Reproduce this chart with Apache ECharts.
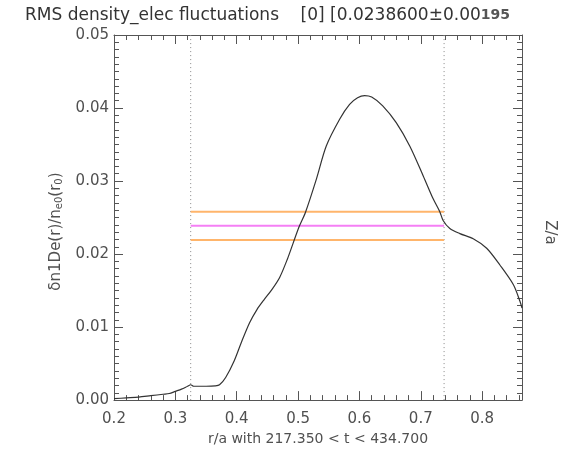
<!DOCTYPE html>
<html><head><meta charset="utf-8">
<script src="https://cdn.jsdelivr.net/npm/echarts@6/dist/echarts.min.js"></script>
<style>html,body{margin:0;padding:0;background:#fff}#c{width:575px;height:451px}</style>
</head><body><div id="c"></div>
<script>
var rValues = [0.2,0.22,0.24,0.26,0.28,0.29,0.30,0.31,0.32,0.325,0.33,0.35,0.365,0.372,0.382,0.396,0.408,0.421,0.433,0.445,0.457,0.47,0.483,0.492,0.502,0.512,0.53,0.546,0.568,0.584,0.597,0.6085,0.62,0.638,0.66,0.682,0.704,0.72,0.731,0.7364,0.7474,0.7637,0.7855,0.8074,0.829,0.851,0.8618,0.865];
var densValues = [0.0002,0.0003,0.0004,0.0006,0.0008,0.0009,0.0012,0.0015,0.0019,0.0021,0.0019,0.0019,0.00195,0.0021,0.0031,0.0054,0.008,0.0106,0.0124,0.0138,0.0151,0.0168,0.0194,0.0215,0.0238,0.0257,0.0303,0.0348,0.0385,0.0405,0.0414,0.0417,0.0415,0.0403,0.038,0.0348,0.0307,0.0276,0.0258,0.0246,0.0235,0.0228,0.0221,0.0208,0.0185,0.0158,0.0135,0.0126];
var rangeBounds = [0.325, 0.738];
var meanValue = 0.02386;
var errValue = 0.00195;
var xTickLabels = ['0.2','0.3','0.4','0.5','0.6','0.7','0.8'];
var yTickLabels = ['0.00','0.01','0.02','0.03','0.04','0.05'];

var curve = rValues.map(function(r,i){return [r, densValues[i]];});
var font = 'DejaVu Sans';
var txt = '#505050';
var tickCol = '#555';
function ax(o, minorSplit){
  return Object.assign({
    axisLine:{show:true, onZero:false, lineStyle:{color:tickCol, width:1}},
    axisTick:{show:true, inside:true, length:9, lineStyle:{color:tickCol}},
    minorTick:{show:true, splitNumber:minorSplit, length:5, lineStyle:{color:tickCol}},
    splitLine:{show:false}
  }, o);
}

var chart = echarts.init(document.getElementById('c'));
chart.setOption({
  animation:false,
  backgroundColor:'#fff',
  title:{
    text:'RMS density_elec fluctuations    [0] [0.0238600±0.00{b|195}',
    left:20, top:2,
    textStyle:{fontFamily:font, fontSize:17, fontWeight:'normal', color:'#333',
      rich:{b:{fontFamily:font, fontSize:14, fontWeight:'bold', color:'#555'}}}
  },
  grid:{left:114, right:53, top:35, bottom:48},
  xAxis:[
    ax({type:'value', min:0.2, max:0.865, interval:0.1, position:'bottom',
      axisLabel:{showMaxLabel:false, color:txt, fontFamily:font, fontSize:15, margin:12,
        formatter:function(v){var s=v.toFixed(1); return xTickLabels.indexOf(s)>=0?s:'';}},
      name:'r/a with 217.350 < t < 434.700', nameLocation:'middle', nameGap:30,
      nameTextStyle:{color:txt, fontFamily:font, fontSize:14}}, 5),
    ax({type:'value', min:0.2, max:0.865, interval:0.1, position:'top',
      axisLabel:{show:false}}, 5)
  ],
  yAxis:[
    ax({type:'value', min:0, max:0.05, interval:0.01, position:'left',
      axisLabel:{color:txt, fontFamily:font, fontSize:15, margin:5,
        formatter:function(v){var s=v.toFixed(2); return yTickLabels.indexOf(s)>=0?s:'';}},
      name:'{a|δn1De(r)/n}{s|e0}{a|(r}{s|0}{a|)}', nameLocation:'middle', nameGap:46, nameRotate:90,
      nameTextStyle:{padding:[0,28,0,0], rich:{a:{color:txt, fontFamily:font, fontSize:15}, s:{color:txt, fontFamily:font, fontSize:10, padding:[7,0,0,0]}}}}, 10),
    ax({type:'value', min:0, max:0.05, interval:0.01, position:'right',
      axisLabel:{show:false},
      name:'Z/a', nameLocation:'middle', nameGap:20, nameRotate:-90,
      nameTextStyle:{color:txt, fontFamily:font, fontSize:15, padding:[0,0,0,30]}}, 10)
  ],
  series:[
    {type:'line', data:[[rangeBounds[0],0],[rangeBounds[0],0.05]], symbol:'none', silent:true,
      lineStyle:{color:'#888', width:1, type:[1,3]}},
    {type:'line', data:[[rangeBounds[1],0],[rangeBounds[1],0.05]], symbol:'none', silent:true,
      lineStyle:{color:'#888', width:1, type:[1,3]}},
    {type:'line', data:[[rangeBounds[0],meanValue+errValue],[rangeBounds[1],meanValue+errValue]], symbol:'none',
      lineStyle:{color:'#ffb56b', width:2}},
    {type:'line', data:[[rangeBounds[0],meanValue-errValue],[rangeBounds[1],meanValue-errValue]], symbol:'none',
      lineStyle:{color:'#ffb56b', width:2}},
    {type:'line', data:[[rangeBounds[0],meanValue],[rangeBounds[1],meanValue]], symbol:'none',
      lineStyle:{color:'#f57ff5', width:2}},
    {type:'line', data:curve, symbol:'none', smooth:0.3, lineStyle:{color:'#333', width:1.2}}
  ]
});
</script></body></html>
